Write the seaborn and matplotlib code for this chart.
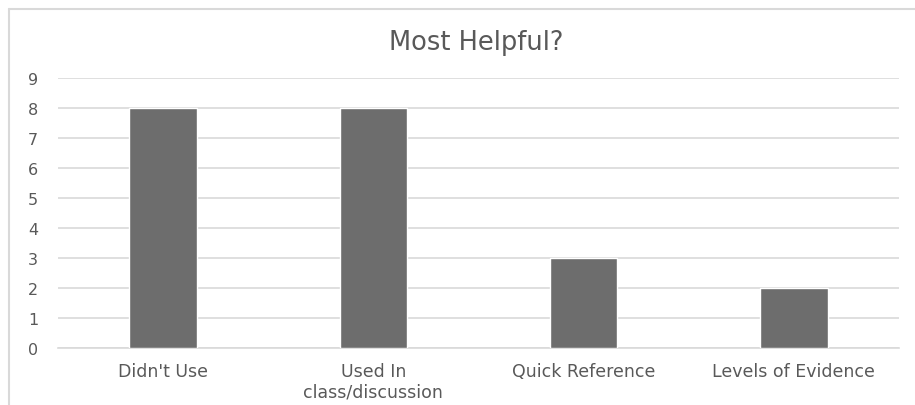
import matplotlib
matplotlib.use("Agg")
import matplotlib.pyplot as plt
import seaborn as sns
import pandas as pd
from matplotlib.lines import Line2D

categories = ["Didn't Use", "Used In\nclass/discussion", "Quick Reference", "Levels of Evidence"]
counts = [8, 8, 3, 2]
y_ticks = list(range(0, 10))

df = pd.DataFrame({"category": categories, "count": counts})

sns.set_theme(style="white")
plt.rcParams["font.family"] = ["DejaVu Sans"]

text_gray = "#595959"
grid_gray = "#d9d9d9"

fig = plt.figure(figsize=(9.15, 4.06), dpi=100)
ax = fig.add_axes([0.0634, 0.1404, 0.9191, 0.665])

sns.barplot(data=df, x="category", y="count", color="#6d6d6d",
            width=0.32, saturation=1, ax=ax, zorder=3)

ax.set_ylim(0, 9)
ax.set_yticks(y_ticks)
ax.set_yticklabels([str(t) for t in y_ticks])
ax.set_xlim(-0.5, len(categories) - 0.5)
ax.yaxis.grid(True, color=grid_gray, linewidth=1.2, zorder=0)
ax.set_axisbelow(True)
for side in ["top", "right", "left"]:
    ax.spines[side].set_visible(False)
ax.spines["bottom"].set_color(grid_gray)
ax.spines["bottom"].set_linewidth(1.2)
ax.set_xlabel("")
ax.set_ylabel("")
ax.tick_params(axis="y", length=0, pad=18, labelsize=11.5, labelcolor=text_gray)
ax.tick_params(axis="x", length=0, pad=10, labelsize=12.5, labelcolor=text_gray)
for lbl in ax.get_yticklabels():
    lbl.set_horizontalalignment("center")

fig.text(0.520, 0.893, "Most Helpful?", ha="center", va="center",
         fontsize=18.5, color=text_gray)

# chart frame
fig.add_artist(Line2D([9 / 915, 9 / 915], [0, 1 - 10 / 406],
                      transform=fig.transFigure, color=grid_gray, linewidth=1.5))
fig.add_artist(Line2D([9 / 915, 1], [1 - 10 / 406, 1 - 10 / 406],
                      transform=fig.transFigure, color=grid_gray, linewidth=1.5))

fig.savefig("out.png", dpi=100)
